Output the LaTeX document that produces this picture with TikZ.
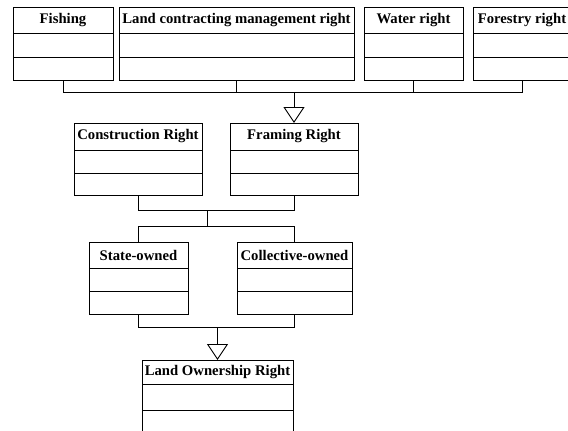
\documentclass[tikz,border=0pt]{standalone}
\usepackage{fontspec}
\setmainfont{Liberation Serif}
\usetikzlibrary{arrows.meta}
\tikzset{
  cls/.style={draw=black, line width=0.9pt, inner sep=0pt, outer sep=0pt, anchor=north west,
    font=\fontsize{14.7}{16}\selectfont\bfseries, align=center},
  conn/.style={draw=black, line width=0.9pt},
  gen/.style={conn, -{Triangle[open, width=21pt, length=16pt]}}
}
% #1 name, #2 xl, #3 xr, #4 ytop, #5 y1, #6 y2, #7 ybot, #8 text
\newcommand{\umlclassbox}[8]{%
  \pgfmathsetmacro\bw{#3-#2}%
  \pgfmathsetmacro\ha{#5-#4}%
  \pgfmathsetmacro\hb{#6-#5}%
  \pgfmathsetmacro\hc{#7-#6}%
  \node[cls, minimum width=\bw pt, minimum height=\ha pt] (#1) at (#2,#4) {#8};
  \node[cls, minimum width=\bw pt, minimum height=\hb pt] (#1-a) at (#1.south west) {};
  \node[cls, minimum width=\bw pt, minimum height=\hc pt] (#1-b) at (#1-a.south west) {};
}
\begin{document}
\begin{tikzpicture}[x=1pt,y=-1pt]
\useasboundingbox (0,0) rectangle (568,431);
\clip (0,0) rectangle (568,431);
\fill[white] (0,0) rectangle (568,431);

% top row
\umlclassbox{fish}{13}{113}{7}{33}{57}{80}{Fishing}
\umlclassbox{land}{119}{354}{7}{33}{57}{80}{Land contracting management right}
\umlclassbox{water}{364}{463}{7}{33}{57}{80}{Water right}
\umlclassbox{forest}{473}{571}{7}{33}{57}{80}{Forestry right}

% second row
\umlclassbox{cons}{74}{202}{123}{150}{173}{195}{Construction Right}
\umlclassbox{fram}{230}{358}{123}{150}{173}{195}{Framing Right}

% third row
\umlclassbox{state}{89}{188}{242}{268}{291}{314}{State-owned}
\umlclassbox{coll}{237}{352}{242}{268}{291}{314}{Collective-owned}

% bottom
\umlclassbox{lor}{142}{293}{360}{384}{410}{434}{Land Ownership Right}

% generalisation: top row -> Framing Right
\coordinate (j1) at (fram.north |- 0,92);
\draw[conn] (fish-b.south) |- (j1);
\draw[conn] (land-b.south) |- (j1);
\draw[conn] (water-b.south) |- (j1);
\draw[conn] (forest-b.south) |- (j1);
\draw[gen] (j1) -- (fram.north);

% Construction/Framing -> State/Collective
\coordinate (j2) at (207,210);
\coordinate (j3) at (207,226);
\draw[conn] (cons-b.south) |- (j2);
\draw[conn] (fram-b.south) |- (j2);
\draw[conn] (j2) -- (j3);
\draw[conn] (j3) -| (state.north);
\draw[conn] (j3) -| (coll.north);

% State/Collective -> Land Ownership Right
\coordinate (j4) at (lor.north |- 0,327);
\draw[conn] (state-b.south) |- (j4);
\draw[conn] (coll-b.south) |- (j4);
\draw[gen] (j4) -- (lor.north);
\end{tikzpicture}
\end{document}
